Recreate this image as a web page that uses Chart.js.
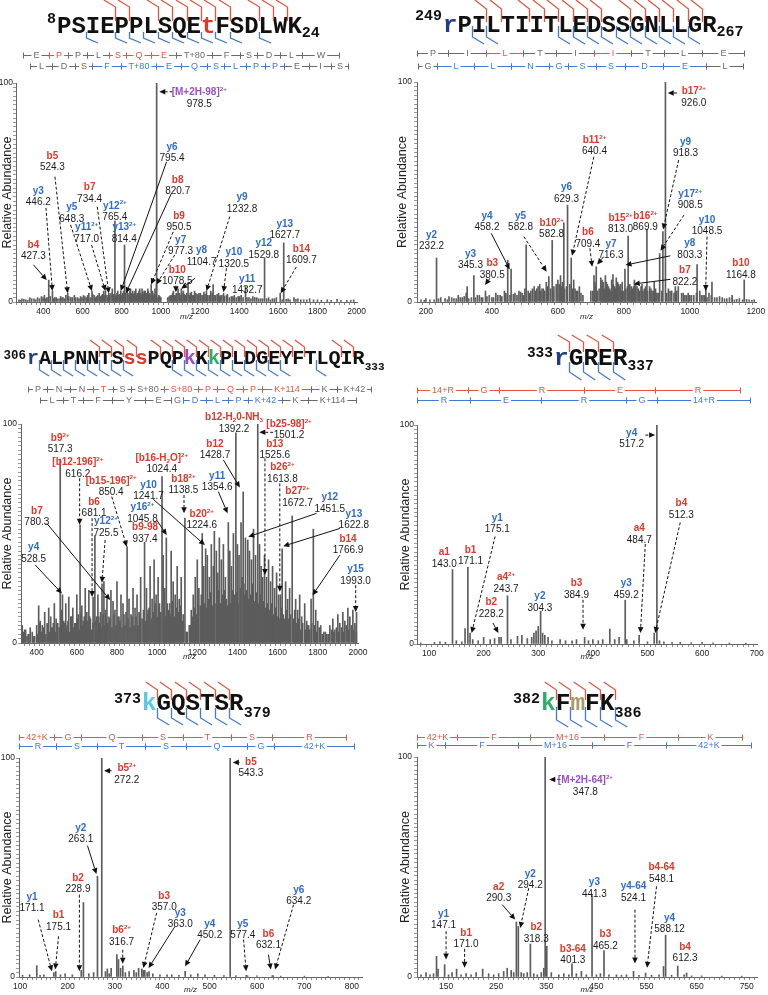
<!DOCTYPE html>
<html><head><meta charset="utf-8">
<script src="https://cdn.jsdelivr.net/npm/chart.js@4.4.1/dist/chart.umd.min.js"></script>
<style>
html,body{margin:0;padding:0;background:#fff}
body{position:relative;width:768px;height:995px;overflow:hidden}
canvas{position:absolute;display:block}
</style></head><body>
<canvas id="c1" width="384" height="322" style="left:0;top:0"></canvas>
<canvas id="c2" width="384" height="322" style="left:384px;top:0"></canvas>
<canvas id="c3" width="384" height="340" style="left:0;top:322px"></canvas>
<canvas id="c4" width="384" height="340" style="left:384px;top:322px"></canvas>
<canvas id="c5" width="384" height="333" style="left:0;top:662px"></canvas>
<canvas id="c6" width="384" height="333" style="left:384px;top:662px"></canvas>
<script>
const RED='#e2372a', BLUE='#2f6bd0', PURPLE='#9b4fc6', DBLUE='#1f3e8a', GREEN='#2fae67', LBLUE='#5cc6ea', KHAKI='#a99a67';
const LRED='#e8553f', LBLU='#4079d8';

/* ---------- Panel 1 : PSIEPPLSQEtFSDLWK ---------- */
const p1Peaks=[[978.5,100],[765.4,37],[814.4,26],[1529.8,20],[1627.7,27],[427.3,10],[446.2,5],[524.3,4],[648.3,5],[717.0,5],[734.4,4],[795.4,5],[820.7,4],[950.5,8],[977.3,8],[1078.5,4],[1104.7,6],[1139,8.5],[1232.8,5],[1267,8],[1320.5,4],[1432.7,7],[1609.7,4]];
const p1Noise=[[275,1],[290,1.5],[310,1],[330,2],[352,1.5],[370,2],[390,2.5],[405,3],[418,2],[435,2.5],[458,2],[470,1.5],[488,2.5],[500,2],[515,3],[540,2],[558,3],[575,2],[590,2.5],[605,3],[620,2],[632,4],[660,3],[672,2.5],[685,4],[698,3],[708,5],[725,3],[745,4],[752,6],[772,3],[780,5],[790,3.5],[805,4],[828,5],[838,3],[845,6],[852,4],[860,3.5],[868,5],[875,3],[884,4],[892,6],[900,3],[908,4.5],[915,5],[925,3.5],[933,6],[940,4],[957,5],[962,3],[970,6],[990,3],[1000,2],[1035,2],[1048,3],[1060,4],[1068,3],[1088,6],[1095,4],[1115,5],[1125,3],[1150,4],[1162,3],[1172,5],[1185,3.5],[1195,4],[1210,3],[1220,4.5],[1248,3],[1255,5],[1280,3],[1295,4],[1305,3],[1340,3.5],[1360,2.5],[1375,3],[1395,2.5],[1410,3],[1450,2],[1470,2.5],[1490,2],[1510,1.5],[1550,2],[1570,1.5],[1590,2],[1650,1.5],[1680,2],[1700,1.5],[1730,1],[1760,1.5],[1800,1],[1850,1],[1900,1.2],[1950,0.8],[1985,1]];
const p1Noise2=[[282,0.8],[300,1.2],[320,0.8],[340,1.5],[360,1],[380,1.5],[398,2],[412,1.5],[425,2],[452,1.5],[465,2],[480,1.5],[495,2],[508,1.5],[530,2.5],[548,2],[565,2],[582,1.5],[597,2],[612,2.5],[626,3],[640,2],[652,3.5],[666,2],[678,3],[692,2.5],[702,3.5],[714,3],[730,2],[738,3],[758,3.5],[766,2.5],[776,4],[786,3],[798,3],[810,5],[818,3],[832,4],[842,5],[848,3],[856,5],[864,4],[872,6],[880,4],[888,5],[896,4],[904,6],[912,3.5],[920,5],[928,4],[936,5],[944,3],[952,4],[966,4],[975,3],[985,2],[995,2.5],[1042,2.5],[1055,3],[1064,5],[1075,3],[1082,4],[1100,3],[1108,4],[1120,3.5],[1132,4],[1145,3],[1156,4.5],[1168,3],[1178,4],[1190,3],[1202,4],[1215,3],[1226,3.5],[1240,3],[1262,4],[1272,3],[1288,3.5],[1300,2.5],[1312,3],[1325,2.5],[1335,3],[1350,2],[1368,2.5],[1385,2],[1402,2.5],[1420,2],[1440,2],[1460,1.5],[1480,2],[1500,1.5],[1520,1.5],[1540,1.5],[1560,1],[1580,1.5],[1620,1],[1640,1.2],[1660,1],[1690,1.2],[1715,1],[1745,1],[1780,1],[1820,0.8],[1870,0.8],[1920,0.8],[1970,0.8]];
const p1Ions=[['[M+2H-98]^{2+}','978.5','p'],['b4','427.3','r'],['y3','446.2','b'],['b5','524.3','r'],['b7','734.4','r'],['y5','648.3','b'],['y11^{2+}','717.0','b'],['y12^{2+}','765.4','b'],['y13^{2+}','814.4','b'],['y6','795.4','b'],['b8','820.7','r'],['b9','950.5','r'],['y7','977.3','b'],['b10','1078.5','r'],['y8','1104.7','b'],['y9','1232.8','b'],['y10','1320.5','b'],['y11','1432.7','b'],['y12','1529.8','b'],['y13','1627.7','b'],['b14','1609.7','r']];
const p1IonLayout=[[1196,96,1060,96,992,96,1],[349,26.5,349,17,417,10,2],[374,51,413,43,446,5,1],[446,67.1,459,57.2,524,4,1],[636,52.7,675,43.5,734,4,1],[545,43.5,539,35.2,648,5,1],[621,34.4,646,26,717,5,1],[765,44.3],[813,34.4],[1057,71.2,1029,64,795,5,2],[1086,56.2,1054,49.6,821,4,2],[1093,39.7,1063,32,950,8,1],[1101,28.6,1071,21.5,977,8,1],[1084,15,1077,7.5,1077,4.5,1],[1208,24,1174,10.8,1104,6,2],[1415,48.1,1352,39,1233,5,1],[1373,23,1335,15.4,1320,4.5,1],[1441,10.8],[1526,27.1],[1633,35.9],[1718,24.5,1692,16,1612,4,1]];
const p1Residues='PSIEPPLSQEtFSDLWK';
const p1ResidueColors={10:RED};
const p1BSites=[4,5,7,8,9,10,11,12,14,15,16];
const p1YSites=[2,4,5,6,7,8,9,10,11,12,14];
const p1BStart=298.17, p1YStart=333.19;
const p1BLadder=[['E',129.04,0],['P',97.05,1],['P',97.05,0],['L',113.08,0],['S',87.03,1],['Q',128.06,1],['E',129.04,1],['T+80',181.01,0],['F',147.07,0],['S',87.03,0],['D',115.03,0],['L',113.08,0],['W',186.08,0]];
const p1YLadder=[['L',113.08,0],['D',115.03,0],['S',87.03,0],['F',147.07,1],['T+80',181.01,1],['E',129.04,1],['Q',128.06,1],['S',87.03,1],['L',113.08,1],['P',97.05,1],['P',97.05,1],['E',129.04,0],['I',113.08,0],['S',87.03,0]];

/* ---------- Panel 2 : rPILTIITLEDSSGNLLGR ---------- */
const p2Peaks=[[926.0,100],[918.3,32],[908.5,22],[869.9,33],[813.0,30],[629.3,44],[640.4,20],[618,36],[582.8,28],[572.6,11.5],[504,26],[448,19],[458.2,15],[345.3,12],[232.2,20],[325,7],[380.5,5],[709.4,12],[716.3,16],[803.3,15],[822.2,7],[956,7],[1022,17],[1048.5,7],[1067,9],[1164.8,10],[1128,3],[767,12.5],[734,10],[790,8]];
const p2Noise=[[185,1],[200,1.5],[212,1],[245,2],[258,1.5],[270,2.5],[285,1.5],[298,3],[310,2],[322,4],[338,2],[362,3],[372,2],[392,3],[400,2],[412,4],[425,3],[438,5],[447,3.5],[470,4],[482,5],[492,4],[500,6],[518,5],[528,7],[536,6],[545,8],[552,6],[560,5],[565,9],[588,7],[595,8],[600,10],[608,12],[614,9],[636,8],[648,10],[652,6],[660,5],[665,7],[670,4],[700,5],[712,9],[725,6],[730,11],[738,9],[744,12],[750,8],[757,6],[763,10],[772,7],[777,11],[784,8],[795,9],[800,5],[818,8],[826,6],[832,10],[840,7],[848,5],[855,8],[862,6],[878,7],[885,5],[892,9],[900,4],[935,6],[945,5],[965,7],[975,4],[985,3],[995,4],[1005,3],[1030,5],[1040,3],[1058,4],[1075,2],[1090,2.5],[1105,1.5],[1120,2],[1135,1],[1150,1.5],[1180,1],[1195,1]];
const p2Noise2=[[195,0.8],[225,1],[238,1.5],[265,1],[278,2],[292,1.5],[304,2],[316,2.5],[330,1.5],[350,2],[356,3],[368,2],[385,2.5],[405,2],[418,3],[430,2.5],[442,4],[455,3],[465,3.5],[476,3],[487,4.5],[496,3],[510,5],[514,4],[523,6],[532,5],[540,7],[548,5],[556,6],[568,7],[578,6],[585,5],[604,8],[611,7],[620,6],[626,7],[644,6],[656,5],[676,3],[706,5],[716,7],[720,5],[734,7],[741,6],[747,9],[753,7],[760,5],[768,8],[775,6],[781,9],[788,7],[792,5],[806,6],[811,7],[822,5],[829,7],[836,8],[844,6],[852,7],[858,5],[866,7],[872,5],[882,6],[889,5],[896,6],[904,4],[915,5],[930,4],[940,5],[952,4],[960,5],[980,4],[990,3],[1000,3],[1012,3],[1020,4],[1035,3],[1045,3],[1052,2],[1065,3],[1082,2],[1098,2],[1112,1.5],[1128,1.5],[1142,1.2],[1160,1],[1172,1.2],[1188,0.8]];
const p2Ions=[['b17^{2+}','926.0','r'],['b11^{2+}','640.4','r'],['y6','629.3','b'],['y9','918.3','b'],['y17^{2+}','908.5','b'],['b16^{2+}','869.9','r'],['b15^{2+}','813.0','r'],['y10','1048.5','b'],['y8','803.3','b'],['b7','822.2','r'],['b10','1164.8','r'],['b6','709.4','r'],['y7','716.3','b'],['b10^{2+}','582.8','r'],['y5','582.8','b'],['y4','458.2','b'],['b3','380.5','r'],['y3','345.3','b'],['y2','232.2','b']];
const p2IonLayout=[[1012,96,961,95,933,95,1],[711,74,709,66,643,21,1],[626,52.4],[987,73.2,966,64.5,919,33,1],[1001,49.4,982,39.5,911,23.3,1],[865,39.5],[790,38.5],[1052,37.6,1052,29.7,1048,5,1],[1000,27,941,21,805,16.8,2],[985,14.8,941,10.3,830,8.2,2],[1155,17.9],[691,32,697,24.4,704,16,1],[761,26.7,739,20.6,719,17.1,2],[581,36.2],[487,39.5,497,29.7,566,13.8,1],[385,39.5,398,31.2,454,14.8,2],[401,17.9,394,10.8,379,7.7,2],[335,22.1],[217,30.9]];
const p2Residues='rPILTIITLEDSSGNLLGR';
const p2ResidueColors={0:DBLUE};
const p2BSites=[3,4,6,7,8,9,10,11,13,14,15,16,17,18];
const p2YSites=[2,3,8,9,10,11,12,13,14,15,16,17];
const p2BStart=171.12, p2YStart=175.12;
const p2BLadder=[['P',97.05,0],['I',113.08,0],['L',113.08,1],['T',101.05,0],['I',113.08,0],['I',113.08,1],['T',101.05,0],['L',113.08,0],['E',129.04,0]];
const p2YLadder=[['G',57.02,0],['L',113.08,1],['L',113.08,1],['N',114.04,1],['G',57.02,1],['S',87.03,1],['S',87.03,1],['D',115.03,1],['E',129.04,1],['L',113.08,0]];

/* ---------- Panel 3 : rALPNNTSssPQPkKkPLDGEYFTLQIR ---------- */
const p3Peaks=[[1501.2,100],[1392.2,96],[517.3,84],[1024.4,76],[1428.7,69],[1138.5,57],[1672.7,58],[1354.6,55],[616.2,54],[1224.6,50],[690,49],[1778,52],[1045.8,48],[1451.5,47],[937.4,46],[850.4,44],[1241.7,43],[1622.8,43],[1285,51],[1525.6,30],[725.5,27],[528.5,22],[681.1,21],[780.3,19],[1613.8,22],[1766.9,20],[1993.0,14]];
const p3Noise=[[328,8],[335,5],[345,6],[358,4],[368,7],[378,5],[390,3],[410,17],[418,10],[428,8],[440,14],[452,9],[460,16],[470,12],[478,7],[488,18],[497,11],[505,9],[525,15],[535,10],[545,18],[552,8],[560,21],[570,12],[580,16],[590,9],[600,22],[608,13],[625,17],[632,10],[642,25],[650,14],[660,24],[668,11],[698,12],[705,22],[712,9],[718,14],[735,28],[742,15],[750,20],[760,12],[770,24],[790,15],[800,28],[810,12],[820,22],[830,18],[845,14],[860,20],[870,13],[880,25],[890,16],[900,22],[910,14],[918,30],[947,25],[955,15],[965,35],[975,20],[985,38],[995,22],[1005,30],[1012,18],[1030,40],[1038,25],[1062,18],[1070,42],[1080,28],[1090,22],[1100,35],[1110,20],[1120,30],[1150,5],[1160,8],[1170,15],[1180,22],[1190,30],[1200,38],[1208,25],[1232,35],[1250,40],[1260,30],[1270,45],[1280,35],[1295,42],[1302,32],[1310,48],[1320,38],[1330,45],[1340,30],[1362,42],[1370,35],[1380,50],[1400,45],[1408,40],[1418,55],[1440,48],[1460,42],[1470,38],[1480,52],[1490,40],[1510,45],[1518,35],[1535,40],[1545,30],[1555,38],[1565,28],[1575,35],[1585,25],[1595,32],[1605,22],[1640,28],[1650,20],[1660,25],[1690,20],[1700,15],[1710,22],[1720,12],[1735,18],[1745,10],[1755,8],[1790,15],[1800,10],[1815,8],[1830,5],[1845,4],[1860,8],[1875,11],[1885,6],[1900,13],[1910,9],[1925,14],[1935,10],[1950,16],[1960,12],[1975,15],[1985,9]];
const p3Noise2=[[332,2],[340,6],[352,3],[362,4],[384,3],[400,8],[405,4],[414,9],[423,5],[434,7],[446,4],[456,8],[465,5],[474,7],[483,9],[492,5],[501,9],[512,7],[520,11],[530,6],[540,9],[548,7],[556,10],[565,5],[575,12],[585,7],[595,9],[604,11],[612,6],[620,13],[628,8],[637,12],[646,7],[655,10],[664,12],[673,6],[680,9],[695,10],[702,6],[709,12],[722,7],[730,13],[738,8],[746,12],[755,9],[765,11],[775,7],[785,13],[795,8],[805,12],[815,10],[825,7],[835,13],[840,8],[855,11],[865,7],[875,12],[885,8],[895,12],[905,8],[914,13],[925,11],[932,15],[942,10],[950,13],[960,16],[970,11],[980,14],[990,18],[1000,12],[1008,16],[1018,14],[1035,17],[1042,12],[1050,18],[1058,15],[1066,13],[1075,19],[1085,12],[1095,16],[1105,14],[1115,17],[1125,10],[1130,13],[1145,5],[1165,8],[1175,12],[1185,16],[1195,13],[1204,18],[1215,17],[1220,22],[1236,18],[1245,16],[1255,20],[1265,23],[1275,17],[1288,18],[1298,22],[1306,24],[1315,18],[1325,22],[1335,24],[1345,20],[1350,17],[1358,22],[1366,18],[1375,24],[1385,22],[1396,23],[1404,18],[1414,25],[1423,30],[1432,27],[1436,22],[1445,24],[1455,20],[1465,22],[1475,27],[1485,19],[1495,23],[1505,18],[1515,22],[1525,17],[1530,19],[1540,16],[1550,18],[1560,15],[1570,18],[1580,13],[1590,16],[1600,12],[1610,11],[1618,16],[1628,13],[1635,11],[1645,15],[1655,11],[1665,13],[1680,11],[1685,15],[1695,9],[1705,11],[1715,6],[1725,9],[1740,6],[1750,8],[1760,6],[1770,9],[1785,8],[1795,5],[1808,7],[1822,4],[1838,5],[1852,4],[1868,6],[1880,5],[1893,7],[1905,5],[1918,7],[1930,5],[1942,8],[1955,6],[1968,8],[1980,6],[1992,5]];
const p3Ions=[['b9^{2+}','517.3','r'],['[b12-196]^{2+}','616.2','r'],['b6','681.1','r'],['y12^{2+}','725.5','b'],['[b15-196]^{2+}','850.4','r'],['b7','780.3','r'],['y4','528.5','b'],['[b16-H_{2}O]^{2+}','1024.4','r'],['y10','1241.7','b'],['y16^{2+}','1045.8','b'],['b9-98','937.4','r'],['b18^{2+}','1138.5','r'],['b20^{2+}','1224.6','r'],['b12-H_{2}0-NH_{3}','1392.2','r'],['b12','1428.7','r'],['y11','1354.6','b'],['[b25-98]^{2+}','1501.2','r'],['b13','1525.6','r'],['b26^{2+}','1613.8','r'],['b27^{2+}','1672.7','r'],['y12','1451.5','b'],['y13','1622.8','b'],['b14','1766.9','r'],['y15','1993.0','b']];
const p3IonLayout=[[517,94],[605,82.8,614,75.2,614,54,1],[686,64.8,676,57,676,21,1],[745,55.8,741,47,725,27.5,1],[771,74.4,774,66.8,849,44,1],[401,60.7,451,54.6,766,19.6,2],[385,44,393,35.6,526,22.6,2],[1023,84.8],[957,72.6,981,65.6,1238,44.7,2],[927,62.2,998,56.1,1048,49.3,2],[940,53.1],[1131,75.2,1134,67.6,1134,59.2,1],[1222,59.2],[1383,103.4],[1288,91.2,1330,83.6,1412,71,2],[1299,76.7,1305,69.1,1351,59.2,2],[1657,100.3,1578,96.2,1509,96.2,1],[1586,91.2,1537,84.3,1537,31,1],[1624,80.5,1611,72.9,1611,23.4,1],[1699,69.5],[1860,66.8,1794,59.2,1454,48.5,2],[1980,59.2,1910,52.3,1628,44.2,2],[1951,47.8,1910,40.1,1774,21.8,2],[1988,34,1989,26.4,1989,14.2,1]];
const p3Residues='rALPNNTSssPQPkKkPLDGEYFTLQIR';
const p3ResidueColors={0:DBLUE,8:RED,9:RED,13:PURPLE,15:GREEN};
const p3BSites=[6,7,8,9,11,12,13,14,15,16,17,18,19,20,21,22,23,26,27];
const p3YSites=[1,2,3,4,5,6,7,8,12,13,14,15,16,17,18,19,20,21,24];
const p3BStart=355.24, p3YStart=416.26;
const p3BLadder=[['P',97.05,0],['N',114.04,0],['N',114.04,0],['T',101.05,1],['S',87.03,0],['S+80',167.0,0],['S+80',167.0,1],['P',97.05,1],['Q',128.06,1],['P',97.05,1],['K+114',242.16,1],['K',128.09,0],['K+42',170.11,0]];
const p3YLadder=[['L',113.08,0],['T',101.05,0],['F',147.07,0],['Y',163.06,0],['E',129.04,0],['G',57.02,0],['D',115.03,1],['L',113.08,1],['P',97.05,1],['K+42',170.11,1],['K',128.09,0],['K+114',242.16,0]];

/* ---------- Panel 4 : rGRER ---------- */
const p4Peaks=[[517.2,100],[143.0,34],[171.1,35],[243.7,22],[304.3,15],[459.2,20],[484.7,4],[512.3,5],[384.9,3],[228.2,3],[175.1,5],[431,6.8],[166,7]];
const p4Noise=[[85,0.5],[110,0.8],[120,1],[130,0.8],[150,1.5],[160,1],[180,2],[190,1.5],[200,3],[212,2],[220,2.5],[232,3],[250,2],[262,3.5],[270,4],[280,2.5],[288,3],[292,5],[296,6],[300,8],[308,5],[312,4],[318,3],[325,1.5],[340,2],[350,1.5],[362,1.5],[370,2],[392,1.5],[400,2],[410,1.5],[418,2],[440,2],[448,3],[462,2],[475,1.5],[500,1],[522,1.5],[530,1],[545,0.8],[560,0.8],[580,0.6],[600,0.8],[620,0.5],[650,0.5],[680,0.4]];
const p4Ions=[['y4','517.2','b'],['b4','512.3','r'],['a4','484.7','r'],['y1','175.1','b'],['a1','143.0','r'],['b1','171.1','r'],['a4^{2+}','243.7','r'],['b2','228.2','r'],['y2','304.3','b'],['b3','384.9','r'],['y3','459.2','b']];
const p4IonLayout=[[471,96.7,496,95.4,514,95.4,1],[562,64.6,560,55.5,514,5,1],[485,53.2,496,45.7,487,5,1],[225,57.9,221,49.1,178,5,1],[128,42.2],[176,43.3],[241,30.8],[214,19.4,217,9.6,227,5,2],[303,22],[370,28.1,382,20.2,382,6.5,1],[461,28.1]];
const p4Residues='rGRER';
const p4ResidueColors={0:DBLUE};
const p4BSites=[1,2,3,4];
const p4YSites=[1,2,3,4];
const p4BStart=1.007, p4YStart=19.02;
const p4BLadder=[['14+R',170.12,1],['G',57.02,1],['R',156.10,1],['E',129.04,1],['R',156.10,1]];
const p4YLadder=[['R',156.10,1],['E',129.04,1],['R',156.10,1],['G',57.02,1],['14+R',170.12,1]];

/* ---------- Panel 5 : kGQSTSR ---------- */
const p5Peaks=[[543.3,100],[272.2,100],[263.1,46],[233.5,34],[135,5.2],[304,10.2],[307.5,8],[284,3.7],[356.7,3.7],[228.9,3],[171.1,2],[175.1,2.5],[316.7,5],[360,3],[363.0,3],[448.2,2.6],[577.4,0.8],[632.1,0.6],[634.2,0.6],[372,2.5]];
const p5Noise=[[105,0.8],[120,1],[142,0.8],[150,1],[185,1],[195,1.5],[210,1],[245,1.5],[255,2],[280,2.5],[288,1.5],[292,4],[312,4],[322,2],[330,2.5],[340,3],[345,2],[350,4],[368,2],[380,1.5],[395,1],[410,1],[420,1],[435,0.8],[460,1],[475,1.5],[490,1],[510,0.8],[530,0.6],[555,0.6],[580,0.5],[600,0.5],[650,0.4],[700,0.4],[750,0.3]];
const p5Ions=[['b5^{2+}','272.2','r'],['b5','543.3','r'],['y2','263.1','b'],['b2','228.9','r'],['y1','171.1','b'],['b1','175.1','r'],['b6^{2+}','316.7','r'],['b3','357.0','r'],['y3','363.0','b'],['y4','450.2','b'],['y5','577.4','b'],['b6','632.1','r'],['y6','634.2','b']];
const p5IonLayout=[[325,95.5,293,94.2,277,94.2,2],[587,98.5,563,98,549,98,2],[228,68.5,242,60,261,47,2],[222,45.7,225,37.6,225,2.6,1],[125,36.9,138,26.2,167,2.6,1],[181,28.5,181,18.6,174,3.4,1],[314,21.6,316.5,12.5,316.5,6.1,1],[404,37.3,388,29.3,360,4.1,1],[438,29.6,427,23.2,371,4.1,2],[500,24.7,480,17.1,448,4.9,2],[570,24.7,571.5,17.1,577,2.6,1],[624,20.1,624,10.2,629,3.4,2],[688,40.2,677,33,638,3.4,1]];
const p5Residues='kGQSTSR';
const p5ResidueColors={0:LBLUE};
const p5BSites=[1,2,3,4,5,6];
const p5YSites=[1,2,3,4,5,6];
const p5BStart=1.007, p5YStart=19.02;
const p5BLadder=[['42+K',170.11,1],['G',57.02,1],['Q',128.06,1],['S',87.03,1],['T',101.05,1],['S',87.03,1],['R',156.10,1]];
const p5YLadder=[['R',156.10,1],['S',87.03,1],['T',101.05,1],['S',87.03,1],['Q',128.06,1],['G',57.02,1],['42+K',170.11,1]];

/* ---------- Panel 6 : kFmFK ---------- */
const p6Peaks=[[347.8,100],[351,14],[441.3,37],[290.3,25],[294.2,23],[318.3,15],[588.12,19],[465.2,12],[612.3,5],[401.3,6],[147.1,5.6],[171.0,3.6],[131,9.4],[134,3.6],[524.1,2.6],[548.1,1.8],[584,4.8],[630,1.8]];
const p6Noise=[[100,1],[110,2],[118,1],[125,1.5],[155,1],[162,2],[180,1],[190,1.5],[200,1],[210,2],[223,3.6],[235,1.5],[245,1],[255,1.5],[265,2.5],[272,4],[280,3],[285,2],[300,2],[305,1.5],[312,2],[325,1.5],[332,1],[340,2],[345,4],[360,2],[375,1],[385,1.5],[395,1],[410,1.5],[420,2.5],[430,1],[450,1],[458,1.5],[475,1],[490,1],[500,0.8],[510,1],[535,0.8],[560,0.8],[575,1],[600,0.8],[625,1],[640,0.5],[660,0.5],[700,0.4],[740,0.4]];
const p6Ions=[['[M+2H-64]^{2+}','347.8','p'],['y1','147.1','b'],['b1','171.0','r'],['a2','290.3','r'],['y2','294.2','b'],['b2','318.3','r'],['b3-64','401.3','r'],['y3','441.3','b'],['b3','465.2','r'],['y4-64','524.1','b'],['b4-64','548.1','r'],['y4','588.12','b'],['b4','612.3','r']];
const p6IonLayout=[[428,89.8,378,89.8,356,89.8,1],[145,29.1,150,20.8,150,7.9,1],[190,20.3,187,12.8,187,4.2,1],[255,41.2,262,32.9,288,26.1,2],[318,47.2,315,40.4,298,22.3,1],[330,23],[403,13.2],[446,43.4],[468,19.7],[524,41.5,527,30.6,527,6.1,1],[580,50.2,570,41.2,551,4.2,1],[596,27.1],[627,14]];
const p6Residues='kFmFK';
const p6ResidueColors={0:GREEN,2:KHAKI};
const p6BSites=[1,2,3,4,5];
const p6YSites=[1,2,3,4,5];
const p6BStart=1.007, p6YStart=19.02;
const p6BLadder=[['42+K',170.11,1],['F',147.07,1],['M+16',147.04,1],['F',147.07,1],['K',128.09,1]];
const p6YLadder=[['K',128.09,1],['F',147.07,1],['M+16',147.04,1],['F',147.07,1],['42+K',170.11,1]];

/* ---------- panel layout (geometry only) ---------- */
const panels=[
 {id:'c1',peaks:p1Peaks,noise:p1Noise.concat(p1Noise2),ions:p1Ions,layout:p1IonLayout,xmin:260,xmax:2002,xstep:25,xmajor:200,xoff:0,yW:16,xH:20,padT:83,padR:27,titlePad:0,yTickPad:0,
  seq:{res:p1Residues,colors:p1ResidueColors,left:57,base:33,fs:24,sup:'8',sub:'24',supFs:15,subFs:15,supDy:-10,subDy:4,b:p1BSites,y:p1YSites,geo:[-33,-26,-12,-1,5,10]},
  lad:{topY:55,botY:66,bStart:p1BStart,b:p1BLadder,yStart:p1YStart,y:p1YLadder}},
 {id:'c2',peaks:p2Peaks,noise:p2Noise.concat(p2Noise2),ions:p2Ions,layout:p2IonLayout,xmin:173,xmax:1200.5,xstep:20,xmajor:200,xoff:0,yW:33,xH:20,padT:82,padR:12,titlePad:11.5,yTickPad:2,
  seq:{res:p2Residues,colors:p2ResidueColors,left:59,base:32,fs:24,sup:'249',sub:'267',supFs:15,subFs:15,supDy:-12,subDy:4,b:p2BSites,y:p2YSites,geo:[-32,-23,-10,-6,5,12]},
  lad:{topY:53,botY:66,bStart:p2BStart,b:p2BLadder,yStart:p2YStart,y:p2YLadder}},
 {id:'c3',peaks:p3Peaks,noise:p3Noise.concat(p3Noise2),ions:p3Ions,layout:p3IonLayout,xmin:322,xmax:2000.5,xstep:25,xmajor:200,xoff:0,yW:21,xH:19,padT:102,padR:26,titlePad:0,yTickPad:1,
  seq:{res:p3Residues,colors:p3ResidueColors,left:27,base:42,fs:20.1,sup:'306',sub:'333',supFs:12.5,subFs:11,supDy:-5,subDy:6,b:p3BSites,y:p3YSites,geo:[-24,-17,-7,-4,6,12]},
  lad:{topY:67,botY:78,bStart:p3BStart,b:p3BLadder,yStart:p3YStart,y:p3YLadder}},
 {id:'c4',peaks:p4Peaks,noise:p4Noise,ions:p4Ions,layout:p4IonLayout,xmin:78,xmax:700.5,xstep:10,xmajor:100,xoff:0,yW:33,xH:18,padT:103,padR:11,titlePad:14,yTickPad:0,
  seq:{res:p4Residues,colors:p4ResidueColors,left:170,base:43,fs:24.5,sup:'333',sub:'337',supFs:14.5,subFs:14.5,supDy:-8,subDy:5,b:p4BSites,y:p4YSites,geo:[-30,-23,-13,-3,7,15]},
  lad:{topY:68,botY:78,bStart:p4BStart,b:p4BLadder,yStart:p4YStart,y:p4YLadder}},
 {id:'c5',peaks:p5Peaks,noise:p5Noise,ions:p5Ions,layout:p5IonLayout,xmin:97.5,xmax:821.5,xstep:10,xmajor:100,xoff:0,yW:19,xH:18,padT:96,padR:22,titlePad:0,yTickPad:1,
  seq:{res:p5Residues,colors:p5ResidueColors,left:142,base:48,fs:24.2,sup:'373',sub:'379',supFs:15,subFs:15,supDy:-7,subDy:7,b:p5BSites,y:p5YSites,geo:[-28,-20,-10,-2,8,15]},
  lad:{topY:75,botY:84,bStart:p5BStart,b:p5BLadder,yStart:p5YStart,y:p5YLadder}},
 {id:'c6',peaks:p6Peaks,noise:p6Noise,ions:p6Ions,layout:p6IonLayout,xmin:92,xmax:770.5,xstep:10,xmajor:100,xoff:50,yW:33,xH:18,padT:95,padR:11,titlePad:14,yTickPad:2,
  seq:{res:p6Residues,colors:p6ResidueColors,left:157,base:48,fs:24.5,sup:'382',sub:'386',supFs:15,subFs:15,supDy:-7,subDy:7,b:p6BSites,y:p6YSites,geo:[-28,-20,-10,-3,10,17]},
  lad:{topY:75,botY:83,bStart:p6BStart,b:p6BLadder,yStart:p6YStart,y:p6YLadder}}
];

const SANS='"Liberation Sans", Arial, sans-serif';
const MONO='"Liberation Mono", "DejaVu Sans Mono", monospace';
Chart.defaults.font.family=SANS;

function richParts(s){
  const out=[];let i=0,buf='';
  while(i<s.length){
    if((s[i]==='^'||s[i]==='_')&&s[i+1]==='{'){
      if(buf){out.push({t:buf,m:0});buf='';}
      const j=s.indexOf('}',i);out.push({t:s.slice(i+2,j),m:s[i]==='^'?1:2});i=j+1;
    }else{buf+=s[i];i++;}
  }
  if(buf)out.push({t:buf,m:0});
  return out;
}
function drawRich(ctx,s,cx,cy,size,weight,color){
  const parts=richParts(s);
  const fonts=parts.map(p=>`${weight} ${p.m?size*0.62:size}px ${SANS}`);
  let w=0;const ws=parts.map((p,i)=>{ctx.font=fonts[i];const x=ctx.measureText(p.t).width;w+=x;return x;});
  let x=cx-w/2;const base=cy+size*0.36;
  ctx.fillStyle=color;ctx.textAlign='left';ctx.textBaseline='alphabetic';
  parts.forEach((p,i)=>{ctx.font=fonts[i];const y=p.m===1?base-size*0.42:p.m===2?base+size*0.18:base;ctx.fillText(p.t,x,y);x+=ws[i];});
}
function arrow(ctx,x1,y1,x2,y2,dashed){
  const a=Math.atan2(y2-y1,x2-x1),L=6,W=2.8;
  const bx=x2-L*Math.cos(a),by=y2-L*Math.sin(a);
  ctx.strokeStyle='#111';ctx.lineWidth=1;ctx.setLineDash(dashed?[3,2]:[]);
  ctx.beginPath();ctx.moveTo(x1,y1);ctx.lineTo(bx,by);ctx.stroke();ctx.setLineDash([]);
  ctx.fillStyle='#111';ctx.beginPath();ctx.moveTo(x2,y2);
  ctx.lineTo(bx+W*Math.sin(a),by-W*Math.cos(a));ctx.lineTo(bx-W*Math.sin(a),by+W*Math.cos(a));ctx.closePath();ctx.fill();
}
function drawSeq(ctx,S){
  const w=S.fs*0.6;
  ctx.textBaseline='alphabetic';ctx.textAlign='left';
  ctx.font=`bold ${S.fs}px ${MONO}`;
  for(let i=0;i<S.res.length;i++){ctx.fillStyle=S.colors[i]||'#111';ctx.fillText(S.res[i],S.left+i*w,S.base);}
  ctx.fillStyle='#111';
  ctx.font=`bold ${S.supFs}px ${MONO}`;
  ctx.textAlign='right';ctx.fillText(S.sup,S.left-1,S.base+S.supDy);
  ctx.font=`bold ${S.subFs}px ${MONO}`;
  ctx.textAlign='left';ctx.fillText(S.sub,S.left+S.res.length*w,S.base+S.subDy);
  const g=S.geo,d=w*0.8;
  ctx.lineWidth=1.3;ctx.setLineDash([]);
  ctx.strokeStyle=LRED;
  S.b.forEach(k=>{const x=Math.round(S.left+k*w)+0.5;ctx.beginPath();ctx.moveTo(x-d,S.base+g[0]);ctx.lineTo(x,S.base+g[1]);ctx.lineTo(x,S.base+g[2]);ctx.stroke();});
  ctx.strokeStyle=LBLU;
  S.y.forEach(k=>{const x=Math.round(S.left+k*w)+0.5;ctx.beginPath();ctx.moveTo(x,S.base+g[3]);ctx.lineTo(x,S.base+g[4]);ctx.lineTo(x+d,S.base+g[5]);ctx.stroke();});
}
function drawLadder(ctx,xs,ca,y,start,segs,col){
  let m=start;const pts=[xs.getPixelForValue(m)];
  segs.forEach(s=>{m+=s[1];pts.push(xs.getPixelForValue(m));});
  for(let i=0;i<pts.length;i++)pts[i]=Math.round(Math.max(pts[i],ca.left))+0.5;
  const yy=Math.round(y)+0.5;
  ctx.font=`9px ${SANS}`;ctx.textAlign='center';ctx.textBaseline='middle';ctx.lineWidth=1;ctx.setLineDash([]);
  segs.forEach((s,i)=>{
    const c=s[2]?col:'#6a6a6a';const a=pts[i],b=pts[i+1],mid=(a+b)/2;
    const tw=ctx.measureText(s[0]).width+4;
    ctx.strokeStyle=c;ctx.beginPath();
    if(b-a>tw){ctx.moveTo(a,yy);ctx.lineTo(mid-tw/2,yy);ctx.moveTo(mid+tw/2,yy);ctx.lineTo(b,yy);}
    ctx.moveTo(a,yy-3);ctx.lineTo(a,yy+3);ctx.moveTo(b,yy-3);ctx.lineTo(b,yy+3);
    ctx.stroke();
    ctx.fillStyle=c;ctx.fillText(s[0],mid,yy+0.5);
  });
}
function makeDeco(P){
  return {id:'deco'+P.id,afterDraw(chart){
    const ctx=chart.ctx,xs=chart.scales.x,ys=chart.scales.y,ca=chart.chartArea;
    ctx.save();
    drawSeq(ctx,P.seq);
    drawLadder(ctx,xs,ca,P.lad.topY,P.lad.bStart,P.lad.b,LRED);
    drawLadder(ctx,xs,ca,P.lad.botY,P.lad.yStart,P.lad.y,LBLU);
    P.ions.forEach((ion,i)=>{
      const L=P.layout[i];const col=ion[2]==='r'?RED:ion[2]==='b'?BLUE:PURPLE;
      const lx=xs.getPixelForValue(L[0]),ly=ys.getPixelForValue(L[1]);
      if(L.length>2)arrow(ctx,xs.getPixelForValue(L[2]),ys.getPixelForValue(L[3]),xs.getPixelForValue(L[4]),ys.getPixelForValue(L[5]),L[6]===1);
      drawRich(ctx,ion[0],lx,ly,10,'bold',col);
      drawRich(ctx,ion[1],lx,ly+11.5,10,'normal','#1a1a1a');
    });
    ctx.restore();
  }};
}
function makeChart(P){
  const pts=P.peaks.concat(P.noise).map(([x,y])=>({x,y}));
  return new Chart(document.getElementById(P.id),{
    type:'bar',
    data:{datasets:[{data:pts,backgroundColor:'#5c5c5c',barThickness:1,borderWidth:0}]},
    options:{
      responsive:false,animation:false,events:[],
      layout:{padding:{left:0,top:P.padT,right:P.padR,bottom:0}},
      plugins:{legend:{display:false},tooltip:{enabled:false}},
      scales:{
        x:{type:'linear',min:P.xmin,max:P.xmax,offset:false,
          ticks:{stepSize:P.xstep,autoSkip:false,maxRotation:0,includeBounds:false,padding:2,font:{size:8.5},color:'#222',
            callback:(v)=>{const r=((v-P.xoff)%P.xmajor+P.xmajor)%P.xmajor;return (r<1e-6||P.xmajor-r<1e-6)?String(Math.round(v)):'';}},
          grid:{drawOnChartArea:false,drawTicks:true,tickLength:3,color:'#8a8a8a'},
          border:{color:'#666'},
          title:{display:true,text:'m/z',font:{size:8,style:'italic'},padding:0,color:'#222'},
          afterFit:(s)=>{s.height=P.xH;}},
        y:{min:0,max:100,
          ticks:{stepSize:2,autoSkip:false,includeBounds:false,padding:P.yTickPad,font:{size:8.5},color:'#222',
            callback:(v)=>(v===0||v===100)?String(v):''},
          grid:{drawOnChartArea:false,drawTicks:true,tickLength:3,color:'#9a9a9a'},
          border:{color:'#666'},
          title:{display:true,text:'Relative Abundance',font:{size:12.5},color:'#222',padding:{top:P.titlePad,bottom:0}},
          afterFit:(s)=>{s.width=P.yW;}}
      }
    },
    plugins:[makeDeco(P)]
  });
}
panels.forEach(makeChart);
</script>
</body></html>
